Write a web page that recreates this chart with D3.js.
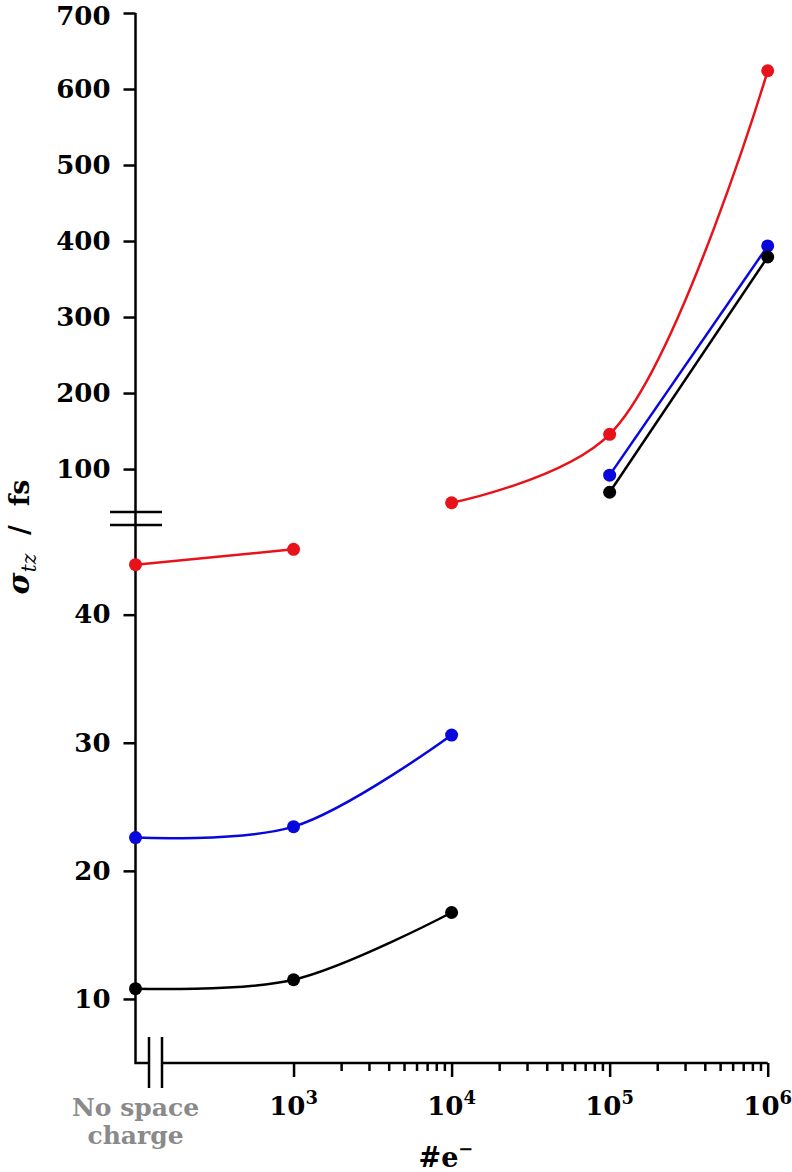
<!DOCTYPE html>
<html lang="en">
<head>
    <meta charset="UTF-8">
    <title>Bunch length vs number of electrons</title>
    <script src="https://d3js.org/d3.v7.min.js"></script>
    <style>
        body { margin: 0; background: #fff; }
        text { font-family: "DejaVu Serif", serif; font-weight: bold; }
    </style>
</head>
<body>
    <svg id="chart"></svg>

    <script>
        // 100 electrons stands in for the "No space charge" point
        const electrons = [100, 1e3, 1e4, 1e5, 1e6];
        const redSigma = [43.9, 45.1, 55.7, 145.7, 624];
        const blueSigma = [22.6, 23.45, 30.6, 92, 393.5];
        const blackSigma = [10.8, 11.5, 16.75, 69.5, 379];

        const upperTicks = [100, 200, 300, 400, 500, 600, 700];
        const lowerTicks = [10, 20, 30, 40];
        const decadeTicks = [1e3, 1e4, 1e5, 1e6];
        const decadeExponents = ["3", "4", "5", "6"];
        const breakValue = 47;

        const width = 792, height = 1172;
        const axisX = 135.5, axisY = 1063;

        const svg = d3.select("#chart")
            .attr("width", width)
            .attr("height", height);

        const x = d3.scaleLog().domain([1e2, 1e6]).range([axisX, 767.7]);
        const yUp = d3.scaleLinear().domain([43.5, 700]).range([512, 13]);
        const yLo = d3.scaleLinear().domain([5, 47]).range([axisY, 525]);

        // y axes (two panels)
        [[yUp, upperTicks], [yLo, lowerTicks]].forEach(([scale, ticks]) => {
            const g = svg.append("g")
                .attr("transform", `translate(${axisX}, 0)`)
                .call(d3.axisLeft(scale).tickValues(ticks).tickSize(12).tickPadding(13))
                .attr("font-family", "DejaVu Serif")
                .attr("font-size", 26)
                .attr("font-weight", "bold");
            g.select(".domain").remove();
            g.selectAll(".tick line").attr("stroke", "#000").attr("stroke-width", 2.5);
            g.selectAll(".tick text").attr("fill", "#000");
            // keep the top label inside the page
            g.selectAll(".tick text").filter(d => d === 700).attr("dy", "0.45em");
        });

        // x axis ticks
        const minorTicks = x.ticks().filter(v => v > 1e3 && !decadeTicks.includes(v));
        [[decadeTicks, 14], [minorTicks, 8]].forEach(([ticks, size]) => {
            const g = svg.append("g")
                .attr("transform", `translate(0, ${axisY})`)
                .call(d3.axisBottom(x).tickValues(ticks).tickSize(size).tickFormat(""));
            g.select(".domain").remove();
            g.selectAll(".tick line").attr("stroke", "#000").attr("stroke-width", 2.5);
        });

        svg.append("g")
            .selectAll("text")
            .data(decadeTicks)
            .enter()
            .append("text")
            .attr("x", d => x(d))
            .attr("y", 1115)
            .attr("text-anchor", "middle")
            .attr("font-size", 26)
            .each(function (d, i) {
                const t = d3.select(this);
                t.append("tspan").text("10");
                t.append("tspan").attr("dy", -11).attr("font-size", 18).text(decadeExponents[i]);
            });

        // axis lines with breaks
        svg.append("path")
            .attr("d", `M${axisX},13V${axisY}H149`)
            .attr("fill", "none")
            .attr("stroke", "#000")
            .attr("stroke-width", 2.5);
        svg.append("line")
            .attr("x1", 162).attr("x2", x(1e6))
            .attr("y1", axisY).attr("y2", axisY)
            .attr("stroke", "#000").attr("stroke-width", 2.5);
        [512, 525].forEach(y => {
            svg.append("line")
                .attr("x1", 110).attr("x2", 162)
                .attr("y1", y).attr("y2", y)
                .attr("stroke", "#000").attr("stroke-width", 2.5);
        });
        [149, 162].forEach(xx => {
            svg.append("line")
                .attr("x1", xx).attr("x2", xx)
                .attr("y1", 1037).attr("y2", 1088)
                .attr("stroke", "#000").attr("stroke-width", 2.5);
        });

        // series
        const series = [
            { color: "#e8121a", values: redSigma },
            { color: "#0808dc", values: blueSigma },
            { color: "#000000", values: blackSigma }
        ];

        const yOf = d => d.v < breakValue ? yLo(d.v) : yUp(d.v);
        const line = d3.line()
            .x(d => x(d.n))
            .y(yOf)
            .curve(d3.curveCatmullRom);

        series.forEach(s => {
            const pts = electrons.map((n, i) => ({ n: n, v: s.values[i], lower: s.values[i] < breakValue }));
            const runs = [];
            pts.forEach((p, i) => {
                if (i === 0 || p.lower !== pts[i - 1].lower) runs.push([]);
                runs[runs.length - 1].push(p);
            });
            runs.filter(r => r.length > 1).forEach(r => {
                svg.append("path")
                    .attr("d", line(r))
                    .attr("fill", "none")
                    .attr("stroke", s.color)
                    .attr("stroke-width", 2.5);
            });
            svg.append("g")
                .selectAll("circle")
                .data(pts)
                .enter()
                .append("circle")
                .attr("cx", d => x(d.n))
                .attr("cy", yOf)
                .attr("r", 6.5)
                .attr("fill", s.color);
        });

        // labels
        ["No space", "charge"].forEach((txt, i) => {
            svg.append("text")
                .attr("x", axisX)
                .attr("y", 1116 + i * 28)
                .attr("text-anchor", "middle")
                .attr("font-size", 25)
                .attr("fill", "#8a8a8a")
                .text(txt);
        });

        const xLabel = svg.append("text")
            .attr("x", 446)
            .attr("y", 1167)
            .attr("text-anchor", "middle")
            .attr("font-size", 27);
        xLabel.append("tspan").text("#e");
        xLabel.append("tspan").attr("dy", -12).attr("font-size", 18).text("−");

        const yLabel = svg.append("text")
            .attr("transform", "translate(29, 537) rotate(-90)")
            .attr("text-anchor", "middle")
            .attr("font-size", 27);
        yLabel.append("tspan").attr("font-style", "italic").attr("font-size", 30).text("σ");
        yLabel.append("tspan").attr("dy", 7).attr("font-size", 20)
            .attr("font-style", "italic").attr("font-weight", "normal").text("tz");
        yLabel.append("tspan").attr("dy", -7).text("\u00a0\u00a0/\u00a0\u00a0fs");
    </script>
</body>
</html>
